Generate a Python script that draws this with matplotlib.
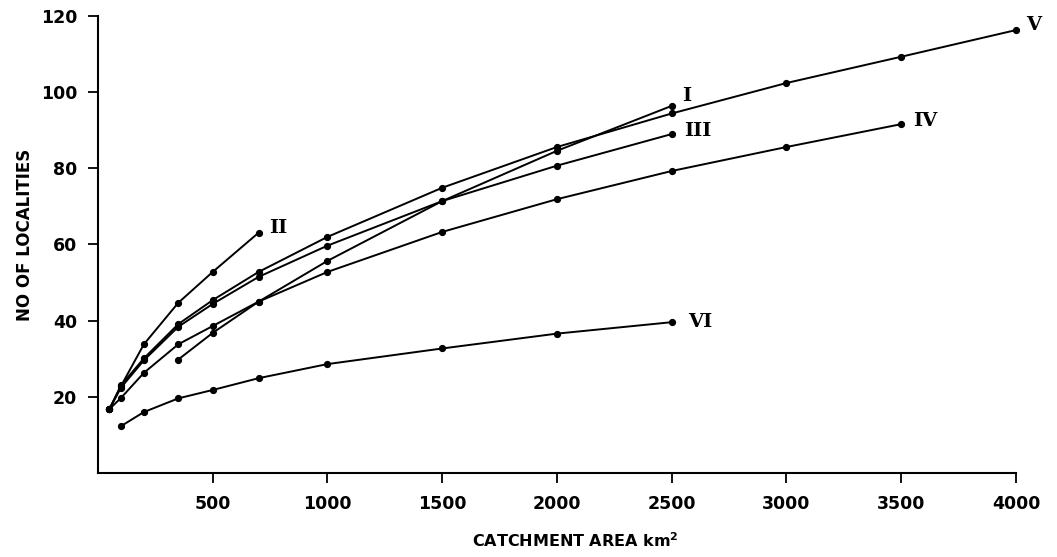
import numpy as np
import matplotlib
matplotlib.use('Agg')
import matplotlib.pyplot as plt

# Catchment area (km2) and number of localities
x_I = [350, 500, 700, 1000, 1500, 2000, 2500]
y_I = [29.8, 36.8, 45.0, 55.7, 71.4, 84.6, 96.4]

x_II = [50, 100, 200, 350, 500, 700]
y_II = [16.8, 22.8, 33.8, 44.7, 52.8, 63.1]

x_III = [50, 100, 200, 350, 500, 700, 1000, 1500, 2000, 2500]
y_III = [16.8, 22.4, 29.6, 38.4, 44.4, 51.5, 59.7, 71.4, 80.7, 89.0]

x_IV = [50, 100, 200, 350, 500, 700, 1000, 1500, 2000, 2500, 3000, 3500]
y_IV = [16.8, 19.7, 26.3, 33.8, 38.6, 45.0, 52.8, 63.3, 71.9, 79.3, 85.6, 91.6]

x_V = [50, 100, 200, 350, 500, 700, 1000, 1500, 2000, 2500, 3000, 3500, 4000]
y_V = [16.8, 23.0, 30.1, 39.1, 45.4, 52.8, 62.0, 74.9, 85.6, 94.4, 102.4, 109.3, 116.3]

x_VI = [100, 200, 350, 500, 700, 1000, 1500, 2000, 2500]
y_VI = [12.3, 16.0, 19.6, 21.8, 24.9, 28.6, 32.7, 36.6, 39.6]

series_names = ['I', 'II', 'III', 'IV', 'V', 'VI']
x_ticks = [500, 1000, 1500, 2000, 2500, 3000, 3500, 4000]
y_ticks = [20, 40, 60, 80, 100, 120]

# label offsets (data units) from each series end point
label_offsets = {
    'I': (45, 2.6),
    'II': (45, 1.2),
    'III': (55, 0.8),
    'IV': (50, 0.8),
    'V': (45, 1.3),
    'VI': (70, 0.0),
}

fig = plt.figure(figsize=(10.57, 5.57), dpi=100)
ax = fig.add_axes([0.0927, 0.1508, 0.8685, 0.8205])

all_series = [(x_I, y_I), (x_II, y_II), (x_III, y_III),
              (x_IV, y_IV), (x_V, y_V), (x_VI, y_VI)]

for name, (xs, ys) in zip(series_names, all_series):
    ax.plot(xs, ys, color='black', lw=1.4, marker='o', ms=4.2,
            clip_on=False)
    dx, dy = label_offsets[name]
    ax.text(xs[-1] + dx, ys[-1] + dy, name, ha='left', va='center',
            fontsize=14, fontweight='bold', family='DejaVu Serif')

ax.set_xlim(0, 4000)
ax.set_ylim(0, 120)
ax.set_xticks(x_ticks)
ax.set_yticks(y_ticks)
ax.spines['top'].set_visible(False)
ax.spines['right'].set_visible(False)
for s in ['left', 'bottom']:
    ax.spines[s].set_linewidth(1.5)
ax.tick_params(direction='out', length=7, width=1.3, labelsize=12.5)
for lab in ax.get_xticklabels() + ax.get_yticklabels():
    lab.set_fontweight('bold')
ax.tick_params(axis='x', pad=9)
ax.tick_params(axis='y', pad=8)

ax.set_xlabel('CATCHMENT AREA km$^{\\mathbf{2}}$', fontsize=11.5, fontweight='bold')
ax.set_ylabel('NO OF LOCALITIES', fontsize=12, fontweight='bold')
ax.xaxis.set_label_coords(0.52, -0.128)
ax.yaxis.set_label_coords(-0.07, 0.52)

fig.savefig('out.png', dpi=100)
